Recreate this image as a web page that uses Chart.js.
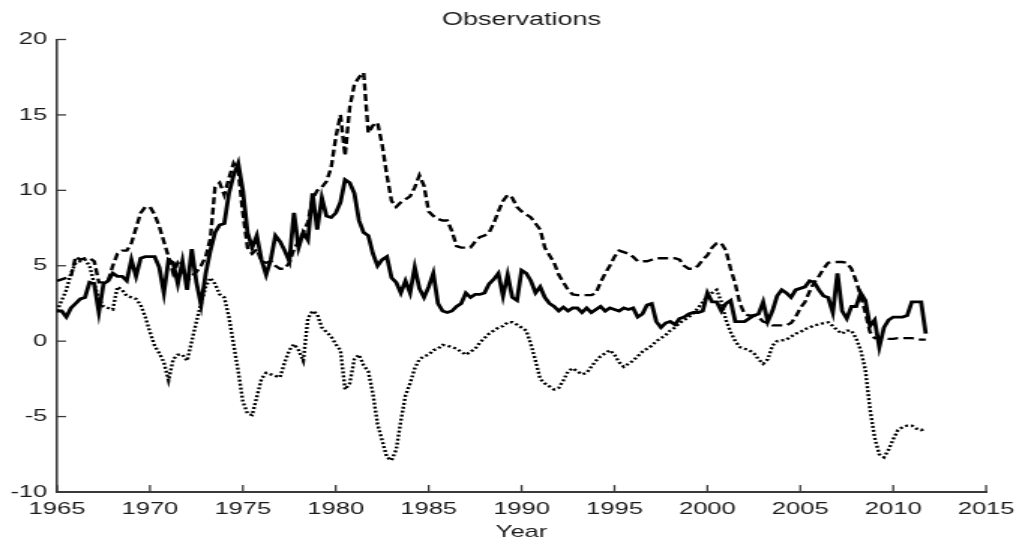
<!DOCTYPE html>
<html>
<head>
<meta charset="utf-8">
<title>Observations</title>
<script src="https://cdn.jsdelivr.net/npm/chart.js@4.4.1/dist/chart.umd.min.js"></script>
<style>
    html, body { margin: 0; padding: 0; background: #fff; overflow: hidden; }
    #wrap { width: 1025px; height: 543px; position: relative; }
    /* the original figure is stretched sideways, so the canvas is drawn narrow and widened */
    #chart { position: absolute; left: 0; top: 0; transform-origin: 0 0; transform: scaleX(1.50073); }
</style>
</head>
<body>
<div id="wrap"><canvas id="chart" width="683" height="543"></canvas></div>
<script>
// Quarterly observations, 1965Q1 - 2011Q4 (one row per year)
const startYear = 1965;

// solid line
const inflation = [
    2.0, 2.0, 1.6, 2.2,
    2.5, 2.8, 2.9, 3.9,
    3.8, 1.9, 3.8, 4.0,
    4.5, 4.3, 4.3, 4.0,
    5.4, 4.3, 5.5, 5.6,
    5.6, 5.6, 4.9, 3.2,
    5.4, 5.2, 3.8, 5.3,
    3.4, 6.1, 3.9, 2.4,
    4.5, 6.0, 7.2, 7.7,
    7.8, 9.8, 11.0, 11.8,
    10.0, 7.2, 6.2, 7.0,
    5.4, 4.4, 5.4, 7.0,
    6.6, 6.0, 5.3, 8.5,
    6.2, 7.2, 6.7, 9.8,
    7.4, 9.5, 8.3, 8.2,
    8.5, 9.2, 10.7, 10.5,
    9.8, 8.0, 7.2, 7.0,
    5.8, 5.0, 5.4, 5.6,
    4.2, 3.9, 3.2, 4.0,
    3.2, 4.9, 3.5, 2.9,
    3.6, 4.5, 2.5, 2.0,
    1.9, 2.0, 2.3, 2.5,
    3.2, 2.9, 3.1, 3.1,
    3.2, 3.8, 4.1, 4.5,
    3.0, 4.4, 2.9, 2.7,
    4.7, 4.5, 4.0, 3.2,
    3.6, 2.9, 2.5, 2.3,
    2.0, 2.25, 2.0, 2.2,
    2.2, 1.9, 2.2, 1.9,
    2.1, 2.3, 2.0, 2.2,
    2.1, 2.0, 2.2, 2.1,
    2.2, 1.6, 1.8, 2.4,
    2.5, 1.3, 0.9, 1.2,
    1.3, 1.1, 1.5, 1.6,
    1.8, 1.9, 1.9, 2.0,
    3.2, 2.6, 2.6, 2.0,
    2.5, 2.7, 1.3, 1.3,
    1.3, 1.5, 1.7, 1.8,
    2.6, 1.3, 2.0, 3.0,
    3.4, 3.2, 2.9, 3.4,
    3.5, 3.6, 4.0, 3.9,
    3.4, 3.0, 2.9, 1.9,
    4.5, 2.0, 1.5, 2.3,
    2.3, 3.2, 2.7, 1.0,
    1.4, -0.4, 0.9, 1.4,
    1.6, 1.6, 1.6, 1.7,
    2.6, 2.6, 2.6, 0.5
];

// dashed line
const interestRate = [
    4.0, 4.1, 4.2, 4.3,
    5.6, 5.4, 5.5, 5.5,
    5.3, 3.9, 3.9, 4.0,
    5.0, 5.8, 6.0, 6.0,
    6.5, 7.5, 8.5, 8.9,
    8.9, 8.4, 7.6, 6.6,
    5.6, 4.5, 5.2, 4.8,
    4.0, 4.3, 4.6, 5.0,
    5.6, 6.8, 10.2, 10.5,
    9.7, 10.8, 11.8, 11.3,
    8.5, 6.2, 5.8, 6.1,
    5.3, 5.2, 5.3, 5.0,
    4.8, 4.8, 5.2, 6.1,
    6.6, 7.2, 7.9, 9.4,
    10.0, 10.2, 10.6, 11.5,
    13.5, 15.0, 12.3, 15.5,
    17.0, 17.5, 17.8, 13.8,
    14.3, 14.5, 13.0, 11.0,
    9.3, 8.9, 9.2, 9.4,
    9.6, 10.2, 11.0, 10.3,
    8.6, 8.3, 8.1, 8.0,
    8.0, 7.3, 6.3, 6.2,
    6.2, 6.2, 6.6, 6.9,
    7.0, 7.2, 7.8, 8.6,
    9.3, 9.7, 9.5, 8.9,
    8.6, 8.4, 8.2, 7.8,
    7.4, 6.2, 5.7, 5.2,
    4.4, 3.9, 3.4, 3.1,
    3.05, 3.05, 3.05, 3.05,
    3.2, 3.9, 4.5, 5.0,
    5.6, 6.0, 5.9, 5.8,
    5.6, 5.3, 5.3, 5.3,
    5.4, 5.5, 5.5, 5.5,
    5.5, 5.5, 5.4, 5.0,
    4.8, 4.8, 5.0, 5.4,
    5.7, 6.2, 6.5, 6.5,
    6.0, 4.8, 3.8, 2.5,
    1.8, 1.7, 1.7, 1.6,
    1.3, 1.2, 1.05, 1.05,
    1.05, 1.05, 1.2, 1.6,
    2.2, 2.6, 3.3, 3.9,
    4.3, 4.8, 5.2, 5.25,
    5.25, 5.25, 5.2, 4.8,
    4.0, 3.0, 1.9, 0.6,
    0.2, 0.2, 0.2, 0.15,
    0.15, 0.2, 0.2, 0.2,
    0.2, 0.15, 0.1, 0.1
];

// dotted line
const outputGap = [
    2.0, 2.7, 3.4, 4.5,
    5.2, 5.3, 5.4, 5.0,
    3.8, 2.8, 2.3, 2.2,
    2.1, 3.6, 3.4, 3.0,
    2.9, 2.8, 2.4, 1.6,
    0.6, -0.3, -0.8, -1.4,
    -2.6, -1.2, -0.9, -0.9,
    -1.3, 0.0, 1.3, 2.5,
    3.6, 4.2, 3.8, 3.1,
    2.9, 1.6, -0.2, -2.0,
    -4.0, -4.8, -4.9, -3.7,
    -2.5, -2.1, -2.2, -2.3,
    -2.4, -1.4, -0.6, -0.2,
    -0.6, -1.3, 1.5, 2.0,
    1.8, 0.9, 0.6, 0.3,
    -0.2, -0.6, -3.2, -2.8,
    -1.2, -0.9, -1.6, -2.0,
    -3.5, -5.5, -6.6, -7.7,
    -7.9, -7.2, -5.3, -3.6,
    -2.8, -1.8, -1.2, -1.0,
    -0.9, -0.6, -0.5, -0.25,
    -0.3, -0.4, -0.5, -0.7,
    -0.9, -0.7, -0.5, -0.1,
    0.2, 0.5, 0.7, 0.9,
    1.0, 1.25, 1.25, 1.1,
    0.9, 0.7, -0.2, -1.3,
    -2.5, -2.8, -3.0, -3.2,
    -3.1, -2.6, -2.0, -1.8,
    -2.0, -2.2, -2.1, -1.7,
    -1.3, -1.0, -0.8, -0.6,
    -0.9, -1.4, -1.7, -1.5,
    -1.3, -1.0, -0.7, -0.5,
    -0.3, 0.0, 0.2, 0.4,
    0.7, 0.9, 1.2, 1.4,
    1.6, 1.85, 2.2, 2.6,
    3.0, 3.2, 3.4, 2.6,
    1.4, 0.6, 0.0, -0.4,
    -0.5, -0.6, -0.8, -1.2,
    -1.5, -1.2, -0.3, 0.0,
    0.05, 0.1, 0.3, 0.5,
    0.6, 0.8, 0.9, 1.05,
    1.1, 1.2, 1.25, 1.0,
    0.7, 0.5, 0.7, 0.7,
    0.2, -0.6, -1.9, -4.5,
    -6.4, -7.5, -7.7, -7.2,
    -6.5, -5.9, -5.7, -5.6,
    -5.6, -5.8, -5.9, -5.8
];

// axes
const xMin = 1965, xMax = 2015, xStep = 5;
const yMin = -10, yMax = 20, yStep = 5;

const axisColor = '#3a3a3a';
const textColor = '#1a1a1a';
const fontFamily = '"Liberation Sans", Arial, sans-serif';

function toPoints(values) {
    return values.map((v, i) => ({ x: startYear + i / 4, y: v }));
}

// MATLAB style: tick marks point into the plot
const inwardTicks = {
    id: 'inwardTicks',
    afterDraw(chart) {
        const { ctx, chartArea, scales } = chart;
        ctx.save();
        ctx.strokeStyle = axisColor;
        ctx.lineWidth = 1.3;
        scales.x.ticks.forEach(t => {
            const px = scales.x.getPixelForValue(t.value);
            ctx.beginPath();
            ctx.moveTo(px, chartArea.bottom);
            ctx.lineTo(px, chartArea.bottom - 7);
            ctx.stroke();
        });
        scales.y.ticks.forEach(t => {
            const py = scales.y.getPixelForValue(t.value);
            ctx.beginPath();
            ctx.moveTo(chartArea.left, py);
            ctx.lineTo(chartArea.left + 6, py);
            ctx.stroke();
        });
        ctx.restore();
    }
};

const chart = new Chart(document.getElementById('chart').getContext('2d'), {
    type: 'line',
    data: {
        datasets: [
            {
                label: 'Inflation',
                data: toPoints(inflation),
                borderColor: '#000',
                borderWidth: 2.8,
                pointRadius: 0,
                tension: 0
            },
            {
                label: 'Interest rate',
                data: toPoints(interestRate),
                borderColor: '#000',
                borderWidth: 2.4,
                borderDash: [7, 3.5],
                pointRadius: 0,
                tension: 0
            },
            {
                label: 'Output gap',
                data: toPoints(outputGap),
                borderColor: '#000',
                borderWidth: 2.4,
                borderDash: [2, 2],
                pointRadius: 0,
                tension: 0
            }
        ]
    },
    options: {
        responsive: false,
        devicePixelRatio: 1,
        animation: false,
        layout: { padding: { left: 0, right: 23.3, top: 0, bottom: 0 } },
        plugins: {
            legend: { display: false },
            tooltip: { enabled: false },
            title: {
                display: true,
                text: 'Observations',
                fullSize: false,
                color: textColor,
                font: { family: fontFamily, size: 18, weight: 'normal' },
                padding: { top: 9, bottom: 8.9 }
            }
        },
        scales: {
            x: {
                type: 'linear',
                min: xMin,
                max: xMax,
                afterFit: s => { s.height = 51; },
                grid: { display: false, drawTicks: false, tickLength: 0 },
                border: { display: true, color: axisColor, width: 2 },
                ticks: {
                    stepSize: xStep,
                    padding: 7,
                    color: textColor,
                    font: { family: fontFamily, size: 17 },
                    maxRotation: 0,
                    callback: v => String(v)
                },
                title: {
                    display: true,
                    text: 'Year',
                    color: textColor,
                    font: { family: fontFamily, size: 17 },
                    padding: { top: 0, bottom: 0 }
                }
            },
            y: {
                min: yMin,
                max: yMax,
                afterFit: s => { s.width = 38; },
                grid: { display: false, drawTicks: false, tickLength: 0 },
                border: { display: true, color: axisColor, width: 1.6 },
                ticks: {
                    stepSize: yStep,
                    padding: 6.5,
                    color: textColor,
                    font: { family: fontFamily, size: 17 }
                }
            }
        }
    },
    plugins: [inwardTicks]
});
</script>
</body>
</html>
